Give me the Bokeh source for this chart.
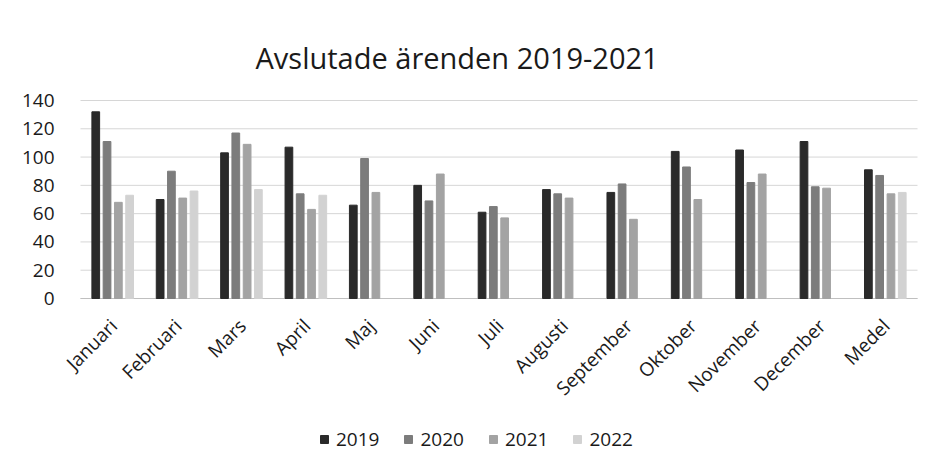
import math
from bokeh.plotting import figure
from bokeh.models import FactorRange, ColumnDataSource, Legend, LegendItem, Title
from bokeh.transform import dodge
from bokeh.embed import file_html
from bokeh.resources import INLINE

months = ["Januari", "Februari", "Mars", "April", "Maj", "Juni", "Juli",
          "Augusti", "September", "Oktober", "November", "December", "Medel"]
years = ["2019", "2020", "2021", "2022"]
v2019 = [132, 70, 103, 107, 66, 80, 61, 77, 75, 104, 105, 111, 91]
v2020 = [111, 90, 117, 74, 99, 69, 65, 74, 81, 93, 82, 79, 87]
v2021 = [68, 71, 109, 63, 75, 88, 57, 71, 56, 70, 88, 78, 74]
v2022 = [73, 76, 77, 73, None, None, None, None, None, None, None, None, 75]
yticks = [0, 20, 40, 60, 80, 100, 120, 140]

series = [v2019, v2020, v2021, v2022]
colors = ["#2a2a2a", "#7c7c7c", "#a3a3a3", "#d2d2d2"]
offsets = [-0.263, -0.088, 0.088, 0.263]

FONT = "Open Sans"

# frame extends below the value axis to hold category labels and legend
plot_h = 198
below_h = 157
y_min = -140 * below_h / plot_h
band_w = 837          # width of the category bands
pad = 17              # extra room on each side for the slanted first label

p = figure(frame_width=band_w + 2 * pad, frame_height=plot_h + below_h + 1,
           x_range=FactorRange(*months), y_range=(y_min, 140 + 140 / plot_h),
           output_backend="svg", toolbar_location=None,
           min_border_left=63, min_border_right=0, min_border_top=99,
           min_border_bottom=0)
p.x_range.range_padding = 2 * pad / band_w
p.x_range.group_padding = 0

p.add_layout(Title(text="Avslutade ärenden 2019-2021", align="left",
                   text_font=FONT, text_font_size="29px", text_font_style="normal",
                   text_color="#1a1a1a", standoff=46, offset=192), "above")

# horizontal grid lines spanning the category bands
grid_src = ColumnDataSource(dict(a=[months[0]] * len(yticks),
                                 b=[months[-1]] * len(yticks), y=yticks))
p.segment(x0=dodge("a", -0.5, range=p.x_range), x1=dodge("b", 0.5, range=p.x_range),
          y0="y", y1="y", source=grid_src, line_color="#d6d6d6", line_width=1)
base_src = ColumnDataSource(dict(a=[months[0]], b=[months[-1]], y=[0]))
p.segment(x0=dodge("a", -0.5, range=p.x_range), x1=dodge("b", 0.5, range=p.x_range),
          y0="y", y1="y", source=base_src, line_color="#bfbfbf", line_width=1)

items = []
for yr, vals, col, off in zip(years, series, colors, offsets):
    xs = [m for m, v in zip(months, vals) if v is not None]
    ys = [v for v in vals if v is not None]
    src = ColumnDataSource(dict(x=xs, top=ys))
    r = p.vbar(x=dodge("x", off, range=p.x_range), top="top", bottom=0, width=0.12,
               source=src, fill_color=col, line_color=col)
    items.append(LegendItem(label=yr, renderers=[r]))

lab_src = ColumnDataSource(dict(x=months, y=[0] * len(months), t=months))
p.text(x="x", y="y", text="t", source=lab_src, angle=math.pi / 4,
       text_align="right", text_baseline="middle", x_offset=1, y_offset=24,
       text_font={"value": FONT}, text_font_size="19px", text_color="#1a1a1a")

legend = Legend(items=items, orientation="horizontal", location=(256, 3),
                glyph_width=10, glyph_height=10, label_standoff=7, spacing=24,
                label_text_font=FONT, label_text_font_size="19px",
                label_text_color="#1a1a1a", border_line_color=None,
                background_fill_alpha=0, margin=0, padding=4)
p.add_layout(legend, "center")

p.yaxis.ticker = yticks
p.yaxis.axis_line_color = None
p.yaxis.major_tick_line_color = None
p.yaxis.minor_tick_line_color = None
p.yaxis.major_label_text_font = FONT
p.yaxis.major_label_text_font_size = "19px"
p.yaxis.major_label_text_color = "#1a1a1a"
p.yaxis.major_label_standoff = 3

p.xaxis.visible = False
p.xgrid.grid_line_color = None
p.ygrid.grid_line_color = None
p.outline_line_color = None

open("out.html", "w").write(file_html(p, INLINE))
